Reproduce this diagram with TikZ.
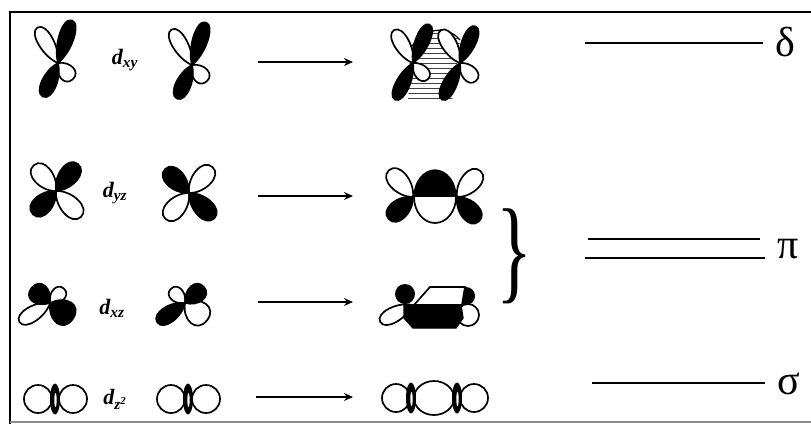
\documentclass[tikz,border=0pt]{standalone}
\usepackage{fontspec}
\setmainfont{Liberation Serif}
\usetikzlibrary{arrows.meta}

\tikzset{
  blk/.style={fill=black, draw=black, line width=1.3pt},
  wht/.style={fill=white, draw=black, line width=1.7pt},
  arr/.style={line width=2.2pt, -{Stealth[length=9pt,width=8pt]}},
  level/.style={line width=2.8pt},
  lbl/.style={font=\fontsize{22}{22}\selectfont\bfseries\itshape, inner sep=0pt},
  greek/.style={font=\fontsize{42}{42}\selectfont, inner sep=0pt, anchor=west},
  hatch/.style={line width=0.9pt, black!75},
}

% one orbital lobe: centre x, centre y, direction, length, width, style
\newcommand{\lobe}[6]{\path[#6, shift={(#1,#2)}, rotate=#3]
  (0,0) .. controls (0.3*#4,0.65*#5) and (#4,0.7*#5) .. (#4,0)
        .. controls (#4,-0.7*#5) and (0.3*#4,-0.65*#5) .. (0,0) -- cycle;}

% torus of a d_z2 orbital seen edge-on
\newcommand{\torus}[2]{%
  \fill (#1,#2) ellipse[x radius=5, y radius=15.5];
  \fill[white] (#1+0.5,#2+1) ellipse[x radius=1.2, y radius=7];}

% d_xy orbital seen in perspective
\newcommand{\dxyorb}[2]{%
  \lobe{#1}{#2}{120}{41}{15}{wht}
  \lobe{#1}{#2}{-48}{22}{16}{wht}
  \lobe{#1}{#2}{72}{45}{15}{blk}
  \lobe{#1}{#2}{246}{37}{15}{blk}}

% d_z2 orbital: two lobes and the torus
\newcommand{\dzzorb}[2]{%
  \filldraw[wht] (#1-17,#2) circle[radius=14];
  \filldraw[wht] (#1+18,#2) circle[radius=14];
  \torus{#1}{#2}}

\begin{document}
\begin{tikzpicture}[x=1pt, y=-1pt]
\useasboundingbox (0,0) rectangle (811,424);

% frame
\draw[line width=2.6pt] (10,12) -- (811,12);
\draw[line width=2.6pt] (10,10.7) -- (10,424);
\draw[line width=1.6pt, black!45] (10,422) -- (811,422);

% ---- d_xy row ----
\dxyorb{58}{63}
\node[lbl] (lxy) at (125,60) {d\textsubscript{xy}};
\dxyorb{192}{65}
% delta overlap
\begin{scope}
  \clip (410,50) .. controls (420,28) and (447,24) .. (460,40) -- (452,102) -- (408,102) -- cycle;
  \foreach \yy in {28,33,...,100} \draw[hatch] (400,\yy) -- (470,\yy);
\end{scope}
\draw[line width=1.2pt] (410,50) .. controls (420,28) and (447,24) .. (460,40);
\lobe{413}{63}{120}{38}{15}{wht}
\lobe{413}{63}{-48}{22}{14}{wht}
\lobe{460}{63}{120}{38}{15}{wht}
\lobe{460}{63}{-48}{24}{15}{wht}
\lobe{413}{63}{67}{42}{14}{blk}
\lobe{413}{63}{244}{41}{14}{blk}
\lobe{460}{63}{67}{40}{14}{blk}
\lobe{460}{63}{244}{41}{14}{blk}

% ---- d_yz row ----
\lobe{56}{191}{131}{34}{19}{wht}
\lobe{56}{191}{-46}{36}{19}{wht}
\lobe{56}{191}{51}{35}{19}{blk}
\lobe{56}{191}{225}{33}{19}{blk}
\node[lbl] (lyz) at (115,193) {d\textsubscript{yz}};
\lobe{189}{193}{48}{35}{19}{wht}
\lobe{189}{193}{228}{35}{19}{wht}
\lobe{189}{193}{135}{34}{19}{blk}
\lobe{189}{193}{-45}{36}{19}{blk}
% pi overlap
\lobe{413}{197}{132}{36}{19}{wht}
\lobe{413}{197}{222}{33}{19}{blk}
\lobe{457}{197}{48}{35}{19}{wht}
\lobe{457}{197}{-48}{33}{19}{blk}
\begin{scope}
  \clip (400,150) rectangle (470,197);
  \filldraw[blk] (435,197) ellipse[x radius=21, y radius=27];
\end{scope}
\begin{scope}
  \clip (400,197) rectangle (470,240);
  \filldraw[wht] (435,197) ellipse[x radius=21, y radius=26];
\end{scope}

% ---- d_xz row ----
\lobe{50}{303}{212}{36}{15}{wht}
\lobe{50}{303}{45}{20}{14}{wht}
\lobe{50}{303}{140}{24}{20}{blk}
\lobe{50}{303}{-35}{28}{25}{blk}
\node[lbl] (lxz) at (112,308) {d\textsubscript{xz}};
\lobe{185}{303}{135}{20}{14}{wht}
\lobe{185}{303}{-38}{28}{24}{wht}
\lobe{185}{303}{40}{25}{18}{blk}
\lobe{185}{303}{215}{34}{16}{blk}
% pi overlap
\lobe{412}{305}{208}{36}{15}{wht}
\fill (405,294) circle[radius=10];
\fill (466,296) circle[radius=9];
\filldraw[wht] (468,315) circle[radius=11];
\filldraw[wht] (414,305) -- (430,287) -- (465,287) -- (462,305) -- cycle;
\filldraw[blk] (404,305) -- (461,305) -- (463,318) -- (456,328) -- (413,328) -- (404,318) -- cycle;

% ---- d_z2 row ----
\dzzorb{55}{399}
\node[lbl] (lz2) at (115,399) {d\textsubscript{z\textsuperscript{2}}};
\dzzorb{188}{399}
% sigma overlap
\filldraw[wht] (434,398) ellipse[x radius=20, y radius=17];
\filldraw[wht] (396,398) circle[radius=14];
\filldraw[wht] (474,398) circle[radius=14];
\torus{411}{398}
\torus{457}{398}

% ---- arrows ----
\coordinate (a1s) at (258,62);  \coordinate (a1e) at (353,62);
\coordinate (a2s) at (258,196); \coordinate (a2e) at (353,196);
\coordinate (a3s) at (258,302); \coordinate (a3e) at (353,302);
\coordinate (a4s) at (256,397); \coordinate (a4e) at (353,397);
\draw[arr] (a1s) -- (a1e);
\draw[arr] (a2s) -- (a2e);
\draw[arr] (a3s) -- (a3e);
\draw[arr] (a4s) -- (a4e);

% brace grouping the two pi combinations
\node[inner sep=0pt] (br) at (514,256) {\scalebox{0.75}[1.15]{\fontsize{100}{100}\selectfont\}}};

% ---- energy levels ----
\coordinate (d1) at (585,43);  \coordinate (d2) at (763,43);
\coordinate (p1) at (588,239); \coordinate (p2) at (760,239);
\coordinate (q1) at (585,258); \coordinate (q2) at (765,258);
\coordinate (s1) at (592,383); \coordinate (s2) at (765,383);
\draw[level] (d1) -- (d2);
\draw[level] (p1) -- (p2);
\draw[level] (q1) -- (q2);
\draw[level] (s1) -- (s2);
\node[greek] (delta) at (775,42) {δ};
\node[greek] (pi) at (777,249) {π};
\node[greek] (sigma) at (777,384) {σ};
\end{tikzpicture}
\end{document}
